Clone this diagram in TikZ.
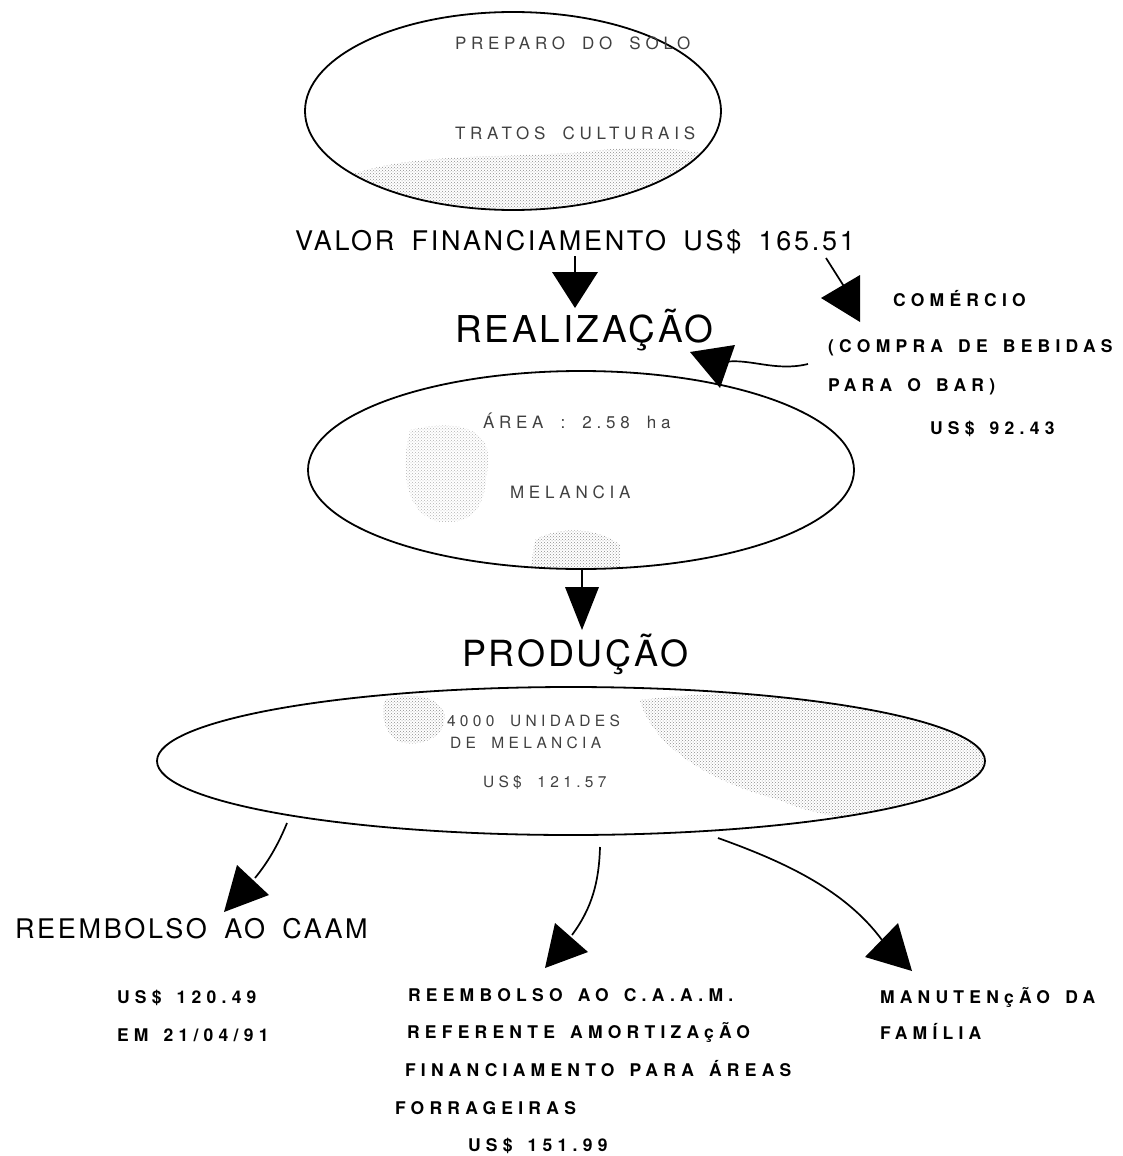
\documentclass[tikz,border=0pt]{standalone}
\usepackage{fontspec}
\setmainfont{TeX Gyre Heros}
\newfontfamily\headfont[LetterSpace=10, WordSpace=1.7]{TeX Gyre Heros}
\newfontfamily\bigheadfont[LetterSpace=8]{TeX Gyre Heros}
\newfontfamily\labelfont[LetterSpace=30, WordSpace=1.5]{TeX Gyre Heros}
\newfontfamily\innerfont[LetterSpace=28, WordSpace=1.8]{TeX Gyre Heros}
\usetikzlibrary{shapes.geometric,patterns}

\begin{document}
\begin{tikzpicture}[x=1pt,y=-1pt,
  every node/.style={inner sep=0pt, outer sep=0pt},
  oval/.style={draw, ellipse, line width=1.8pt, inner sep=0pt},
  head/.style={anchor=base west, font=\headfont\fontsize{27}{32}\selectfont},
  bighead/.style={anchor=base west, font=\bigheadfont\fontsize{37}{44}\selectfont},
  tag/.style={anchor=base west, font=\labelfont\bfseries\fontsize{17.5}{21}\selectfont},
  inner/.style={anchor=base west, text=black!75, font=\innerfont\fontsize{17}{20}\selectfont},
  innersm/.style={anchor=base west, text=black!75, font=\innerfont\fontsize{15.5}{18}\selectfont},
  link/.style={line width=1.7pt},
  tip/.style={fill=black},
  halftone/.style={pattern=crosshatch dots, pattern color=black!45}
]
\useasboundingbox (0,0) rectangle (1123,1156);

% --- halftone shading inside the ovals
\begin{scope}
  \clip (513,111) ellipse [x radius=208pt, y radius=99pt];
  \fill[halftone] (350,175) .. controls (420,150) and (520,160) .. (600,150)
        .. controls (660,145) and (700,150) .. (725,160) -- (725,212) -- (350,212) -- cycle;
  \fill[halftone, pattern color=black!30] (310,20) .. controls (340,10) and (380,20) .. (370,35)
        .. controls (350,45) and (320,40) .. cycle;
\end{scope}
\begin{scope}
  \clip (581,470) ellipse [x radius=273pt, y radius=99pt];
  \fill[halftone, pattern color=black!30] (410,430) .. controls (450,420) and (490,425) .. (488,460)
        .. controls (486,500) and (480,525) .. (440,522) .. controls (405,515) and (400,470) .. cycle;
  \fill[halftone] (535,540) .. controls (560,525) and (600,528) .. (620,545) -- (620,572) -- (530,572) -- cycle;
\end{scope}
\begin{scope}
  \clip (571,761) ellipse [x radius=414pt, y radius=74pt];
  \fill[halftone] (385,700) .. controls (410,692) and (440,695) .. (445,715)
        .. controls (446,735) and (425,748) .. (400,742) .. controls (385,735) and (380,715) .. cycle;
  \fill[halftone] (640,700) .. controls (720,690) and (860,688) .. (990,700) -- (990,835)
        .. controls (900,825) and (820,820) .. (780,800) .. controls (700,780) and (650,740) .. cycle;
\end{scope}

% --- ovals
\node[oval, minimum width=416pt, minimum height=198pt] (plan) at (513,111) {};
\node[oval, minimum width=546pt, minimum height=198pt] (area) at (581,470) {};
\node[oval, minimum width=828pt, minimum height=148pt] (crop) at (571,761) {};

% --- texts inside the ovals
\node[inner] (prep)  at (455,49)  {PREPARO DO SOLO};
\node[inner] (trat)  at (455,139) {TRATOS CULTURAIS};
\node[inner] (size)  at (483,428) {ÁREA : 2.58 ha};
\node[inner] (mel)   at (510,498) {MELANCIA};
\node[innersm] (qty) at (447,726) {4000 UNIDADES};
\node[innersm] (qty2) at (450,748) {DE MELANCIA};
\node[innersm] (val) at (483,787) {US\$ 121.57};

% --- headings
\node[head] (fin) at (295,250) {VALOR FINANCIAMENTO US\$ 165.51};
\node[bighead] (real) at (455,342) {REALIZAÇÃO};
\node[bighead, font=\bigheadfont\fontsize{36}{43}\selectfont] (prod) at (462,666) {PRODUÇÃO};
\node[head] (caam) at (15,938) {REEMBOLSO AO CAAM};

% --- side labels
\node[tag] (com)  at (893,306) {COMÉRCIO};
\node[tag] (com2) at (828,352) {(COMPRA DE BEBIDAS};
\node[tag] (com3) at (828,391) {PARA O BAR)};
\node[tag] (com4) at (930,434) {US\$ 92.43};

\node[tag] (c1) at (117,1003) {US\$ 120.49};
\node[tag] (c2) at (117,1041) {EM 21/04/91};

\node[tag] (r1) at (408,1001) {REEMBOLSO AO C.A.A.M.};
\node[tag] (r2) at (407,1038) {REFERENTE AMORTIZAçÃO};
\node[tag] (r3) at (405,1076) {FINANCIAMENTO PARA ÁREAS};
\node[tag] (r4) at (395,1114) {FORRAGEIRAS};
\node[tag] (r5) at (468,1151) {US\$ 151.99};

\node[tag] (m1) at (880,1003) {MANUTENçÃO DA};
\node[tag] (m2) at (880,1039) {FAMÍLIA};

% --- connector end points
\coordinate (finA) at (575,256);
\coordinate (finB) at (575,276);
\coordinate (finT) at (575,308);
\coordinate (comA) at (826,258);
\coordinate (comB) at (845,288);
\coordinate (comT) at (821,298);
\coordinate (barA) at (808,364);
\coordinate (barB) at (724,362);
\coordinate (barT) at (720,388);
\coordinate (areaA) at (582,569);
\coordinate (areaB) at (582,590);
\coordinate (areaT) at (582,630);
\coordinate (leftA) at (287,823);
\coordinate (leftB) at (255,878);
\coordinate (leftT) at (224,912);
\coordinate (midA) at (600,847);
\coordinate (midB) at (572,935);
\coordinate (midT) at (545,968);
\coordinate (rightA) at (718,838);
\coordinate (rightB) at (882,940);
\coordinate (rightT) at (912,971);

% --- connectors
\draw[link] (finA) -- (finB);
\fill[tip] (finT) -- (552,272) -- (598,272) -- cycle;

\draw[link] (comA) -- (comB);
\fill[tip] (comT) -- (860,275) -- (860,322) -- cycle;

\draw[link] (barA) .. controls (775,372) and (750,358) .. (barB);
\fill[tip] (barT) -- (690,352) -- (735,345) -- cycle;

\draw[link] (areaA) -- (areaB);
\fill[tip] (areaT) -- (565,587) -- (599,587) -- cycle;

\draw[link] (leftA) .. controls (278,845) and (268,862) .. (leftB);
\fill[tip] (leftT) -- (237,865) -- (269,895) -- cycle;

\draw[link] (midA) .. controls (599,882) and (592,908) .. (midB);
\fill[tip] (midT) -- (555,923) -- (588,952) -- cycle;

\draw[link] (rightA) .. controls (785,862) and (845,890) .. (rightB);
\fill[tip] (rightT) -- (898,923) -- (865,957) -- cycle;
\end{tikzpicture}
\end{document}
